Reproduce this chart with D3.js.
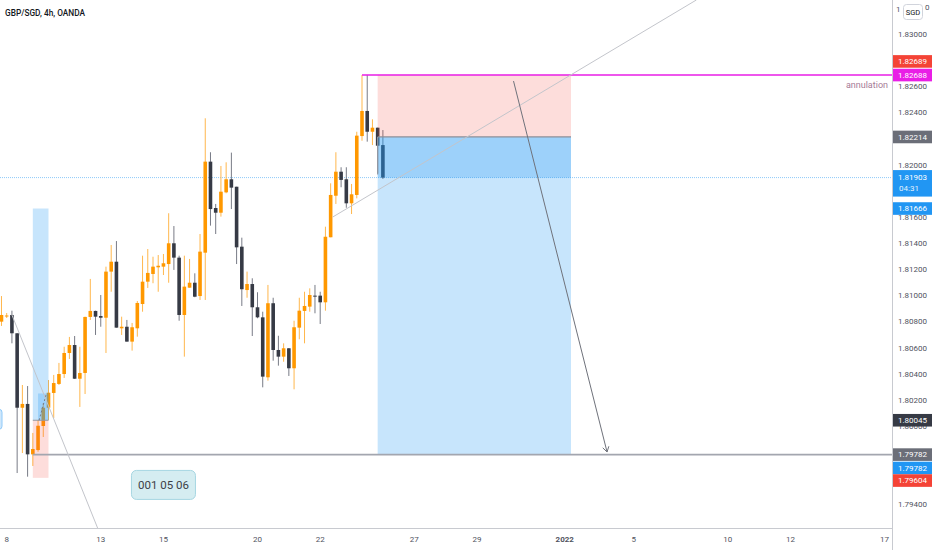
<!DOCTYPE html>
<html lang="en">
<head>
<meta charset="UTF-8">
<title>GBP/SGD, 4h, OANDA</title>
<style>
    body { margin: 0; background: #fff; }
    svg { display: block; font-family: Roboto, "Noto Sans", sans-serif; }
</style>
</head>
<body>
<script src="https://cdnjs.cloudflare.com/ajax/libs/d3/7.8.2/d3.min.js"></script>
<script>

// 4h candles, first one is the last bar of Dec 7
const opens = [1.80800,1.80843,1.80851,1.80711,1.80141,1.80170,1.79784,1.79817,1.80001,1.80141,
    1.80254,1.80323,1.80399,1.80560,1.80621,1.80363,1.80407,1.80836,1.80882,1.80843,
    1.80830,1.81183,1.81259,1.80749,1.80761,1.80647,1.80749,1.80935,1.81106,1.81165,
    1.81216,1.81221,1.81241,1.81400,1.81290,1.80851,1.81060,1.81098,1.80996,1.81328,
    1.82025,1.81670,1.81634,1.81790,1.81890,1.81833,1.81374,1.81042,1.81088,1.80910,
    1.80833,1.80374,1.80941,1.80583,1.80532,1.80596,1.80443,1.80754,1.80882,1.80915,
    1.80999,1.80999,1.80948,1.81446,1.81764,1.81948,1.81890,1.81706,1.81770,1.82221,
    1.82413,1.82254,1.82285,1.82152]
const highs = [1.80996,1.80866,1.80884,1.80711,1.80315,1.80307,1.79948,1.80047,1.80177,1.80353,
    1.80392,1.80484,1.80608,1.80683,1.80690,1.80608,1.80838,1.81127,1.80884,1.81004,
    1.81221,1.81387,1.81417,1.80838,1.80813,1.80790,1.80958,1.81305,1.81356,1.81297,
    1.81310,1.81318,1.81630,1.81532,1.81305,1.81305,1.81280,1.81170,1.81471,1.82357,
    1.82097,1.81701,1.81992,1.82020,1.82094,1.81833,1.81443,1.81183,1.81132,1.81025,
    1.80876,1.81081,1.80983,1.80692,1.80634,1.80598,1.80807,1.80983,1.81029,1.81055,
    1.81081,1.81029,1.81527,1.81859,1.82097,1.81982,1.81982,1.81854,1.82254,1.82688,
    1.82689,1.82349,1.82285,1.82267]
const lows = [1.80767,1.80828,1.80634,1.79641,1.79794,1.79613,1.79695,1.79804,1.79917,1.80047,
    1.80062,1.80315,1.80369,1.80514,1.80361,1.80147,1.80246,1.80813,1.80698,1.80761,
    1.80560,1.81029,1.80754,1.80698,1.80647,1.80578,1.80685,1.80876,1.81058,1.81094,
    1.81029,1.81157,1.81098,1.81196,1.80807,1.80532,1.81060,1.80987,1.80966,1.80966,
    1.81535,1.81471,1.81604,1.81783,1.81662,1.81241,1.80920,1.80983,1.80690,1.80826,
    1.80297,1.80348,1.80501,1.80463,1.80493,1.80384,1.80282,1.80665,1.80634,1.80876,
    1.80864,1.80782,1.80884,1.81446,1.81701,1.81829,1.81672,1.81624,1.81744,1.82185,
    1.82178,1.82152,1.81936,1.81892]
const closes = [1.80851,1.80847,1.80711,1.80141,1.80170,1.79784,1.79825,1.80003,1.80141,1.80256,
    1.80330,1.80399,1.80560,1.80621,1.80363,1.80407,1.80836,1.80882,1.80838,1.80830,
    1.81183,1.81259,1.80754,1.80761,1.80647,1.80757,1.80943,1.81106,1.81173,1.81221,
    1.81228,1.81247,1.81400,1.81290,1.80851,1.81068,1.81098,1.80991,1.81336,1.82025,
    1.81662,1.81634,1.81795,1.81890,1.81826,1.81369,1.81048,1.81088,1.80910,1.80833,
    1.80379,1.80941,1.80583,1.80532,1.80596,1.80443,1.80757,1.80884,1.80920,1.81004,
    1.80994,1.80948,1.81450,1.81770,1.81948,1.81885,1.81706,1.81775,1.82224,1.82413,
    1.82254,1.82285,1.82147,1.81903]

// time axis: trading day number (Dec 8 = 0), 6 bars a day
const dayLabels = ["8","13","15","20","22","27","29","2022","5","10","12","17"]
const dayIndex = [0,3,5,8,10,13,15,17.8,20,23,25,28]
const barsPerDay = 6

const priceTicks = [1.794,1.796,1.798,1.800,1.802,1.804,1.806,1.808,1.810,1.812,
    1.814,1.816,1.818,1.820,1.822,1.824,1.826,1.828,1.830,1.832]

// short position (bars, prices)
const shortBars = [71, 108]
const shortEntry = 1.82214, shortStop = 1.82689, shortTarget = 1.79782
const lastPrice = 1.81903

// small long position on the left
const longBars = [5, 8]
const longEntry = 1.80045, longStop = 1.79604, longTarget = 1.81666, longFill = 1.80250

const annulPrice = 1.82688, annulFromBar = 68
const supportPrice = 1.79782, supportFromBar = 5

// drawn lines [bar, price] pairs
const trendDown = [[1, 1.80851], [17.6, 1.79200]]
const trendUp = [[62.4, 1.81601], [132, 1.83263]]
const arrowLine = [[97, 1.82642], [114.9, 1.79802]]

const W = 932, H = 550
const paneR = 892, paneB = 528

const x = d3.scaleLinear().domain([0, 168]).range([6.7, 884.5])
const y = d3.scaleLinear().domain([1.794, 1.83]).range([504.5, 34.3])

const svg = d3.select("body").append("svg")
    .attr("width", W)
    .attr("height", H)

svg.append("defs").append("clipPath").attr("id", "pane")
    .append("rect").attr("width", paneR).attr("height", paneB)

const pane = svg.append("g").attr("clip-path", "url(#pane)")

// last price line
pane.append("line")
    .attr("x1", 0).attr("x2", paneR)
    .attr("y1", y(lastPrice)).attr("y2", y(lastPrice))
    .attr("stroke", "#2196f3").attr("stroke-opacity", 0.5)
    .attr("stroke-dasharray", "1 1")

// candles
const candles = opens.map((o, i) => ({bar: i - 1, o, h: highs[i], l: lows[i], c: closes[i]}))
const up = d => d.c >= d.o

pane.selectAll("line.wick")
    .data(candles)
    .enter()
    .append("line")
        .attr("class", "wick")
        .attr("x1", d => x(d.bar)).attr("x2", d => x(d.bar))
        .attr("y1", d => y(d.h)).attr("y2", d => y(d.l))
        .attr("stroke", d => up(d) ? "#ffb74d" : "#787b86")
        .attr("stroke-width", 1)

pane.selectAll("rect.body")
    .data(candles)
    .enter()
    .append("rect")
        .attr("class", "body")
        .attr("x", d => x(d.bar) - 1.8)
        .attr("width", 3.6)
        .attr("y", d => y(Math.max(d.o, d.c)))
        .attr("height", d => Math.max(1, Math.abs(y(d.o) - y(d.c))))
        .attr("fill", d => up(d) ? "#ff9800" : "#363a45")

// small long position
pane.append("rect")
    .attr("x", x(longBars[0])).attr("width", x(longBars[1]) - x(longBars[0]))
    .attr("y", y(longTarget)).attr("height", y(longEntry) - y(longTarget))
    .attr("fill", "rgba(33,150,243,0.25)")
pane.append("rect")
    .attr("x", x(longBars[0] + 1)).attr("width", x(longBars[1]) - x(longBars[0] + 1))
    .attr("y", y(longFill)).attr("height", y(longEntry) - y(longFill))
    .attr("fill", "rgba(33,150,243,0.25)")
pane.append("rect")
    .attr("x", x(longBars[0])).attr("width", x(longBars[1]) - x(longBars[0]))
    .attr("y", y(longEntry)).attr("height", y(longStop) - y(longEntry))
    .attr("fill", "rgba(244,67,54,0.18)")
pane.append("line")
    .attr("x1", x(longBars[0])).attr("x2", x(longBars[1]))
    .attr("y1", y(longEntry)).attr("y2", y(longEntry))
    .attr("stroke", "#9598a1").attr("stroke-width", 1)
pane.append("line")
    .attr("x1", x(longBars[0] + 1.2)).attr("x2", x(longBars[1] - 0.4))
    .attr("y1", y(longEntry)).attr("y2", y(longFill))
    .attr("stroke", "#787b86").attr("stroke-dasharray", "2 2")

// short position
pane.append("rect")
    .attr("x", x(shortBars[0])).attr("width", x(shortBars[1]) - x(shortBars[0]))
    .attr("y", y(shortStop)).attr("height", y(shortEntry) - y(shortStop))
    .attr("fill", "rgba(244,67,54,0.18)")
pane.append("rect")
    .attr("x", x(shortBars[0])).attr("width", x(shortBars[1]) - x(shortBars[0]))
    .attr("y", y(shortEntry)).attr("height", y(shortTarget) - y(shortEntry))
    .attr("fill", "rgba(33,150,243,0.25)")
pane.append("rect")
    .attr("x", x(shortBars[0])).attr("width", x(shortBars[1]) - x(shortBars[0]))
    .attr("y", y(shortEntry)).attr("height", y(lastPrice) - y(shortEntry))
    .attr("fill", "rgba(33,150,243,0.25)")
pane.append("line")
    .attr("x1", x(shortBars[0])).attr("x2", x(shortBars[1]))
    .attr("y1", y(shortEntry)).attr("y2", y(shortEntry))
    .attr("stroke", "#8c8f98").attr("stroke-width", 1.3)
pane.append("line")
    .attr("x1", x(shortBars[0])).attr("x2", x(shortBars[0]))
    .attr("y1", y(shortEntry)).attr("y2", y(lastPrice) - 3)
    .attr("stroke", "#9598a1").attr("stroke-width", 1.2)

// support line and annulation line
pane.append("line")
    .attr("x1", x(supportFromBar)).attr("x2", paneR)
    .attr("y1", y(supportPrice)).attr("y2", y(supportPrice))
    .attr("stroke", "#a3a6af").attr("stroke-width", 1.6)

pane.append("line")
    .attr("x1", x(annulFromBar)).attr("x2", paneR)
    .attr("y1", y(annulPrice)).attr("y2", y(annulPrice))
    .attr("stroke", "#e91ee6").attr("stroke-width", 1.6)

pane.append("text")
    .attr("x", paneR - 4).attr("y", y(annulPrice) + 13)
    .attr("text-anchor", "end")
    .attr("font-size", 9)
    .attr("fill", "#a57a96")
    .text("annulation")

// trend lines
const seg = (pts, col, w) => pane.append("line")
    .attr("x1", x(pts[0][0])).attr("y1", y(pts[0][1]))
    .attr("x2", x(pts[1][0])).attr("y2", y(pts[1][1]))
    .attr("stroke", col).attr("stroke-width", w)

seg(trendDown, "#c3c5cb", 1)
seg(trendUp, "#c3c5cb", 1)
seg(arrowLine, "#6f727b", 1)

// arrow head
const ax = x(arrowLine[1][0]), ay = y(arrowLine[1][1])
const ang = Math.atan2(ay - y(arrowLine[0][1]), ax - x(arrowLine[0][0]))
;[-0.55, 0.55].forEach(a => {
    pane.append("line")
        .attr("x1", ax).attr("y1", ay)
        .attr("x2", ax - 6 * Math.cos(ang + a)).attr("y2", ay - 6 * Math.sin(ang + a))
        .attr("stroke", "#6f727b").attr("stroke-width", 1)
})

// note box
const noteG = pane.append("g").attr("transform", `translate(${x(30)},${y(1.7955)})`)
noteG.append("rect")
    .attr("x", -32).attr("y", -14.5).attr("width", 64).attr("height", 29).attr("rx", 5)
    .attr("fill", "#d5edf1").attr("stroke", "#a6d6e2").attr("stroke-width", 1)
noteG.append("text")
    .attr("text-anchor", "middle").attr("dy", "0.36em")
    .attr("font-size", 11.5).attr("fill", "#3c3f47")
    .text("001 05 06")

// tiny label cut off at the left edge
pane.append("rect")
    .attr("x", -10).attr("y", y(1.80045) - 11).attr("width", 12).attr("height", 20).attr("rx", 3)
    .attr("fill", "#cfe7fb").attr("stroke", "#90caf9")

// title
svg.append("text")
    .attr("x", 5).attr("y", 16)
    .attr("font-size", 8.3).attr("font-weight", 500)
    .attr("fill", "#131722")
    .text("GBP/SGD, 4h, OANDA")

// axes frame
svg.append("line")
    .attr("x1", paneR + 0.5).attr("x2", paneR + 0.5).attr("y1", 0).attr("y2", H)
    .attr("stroke", "#c8cad0")
svg.append("line")
    .attr("x1", 0).attr("x2", paneR).attr("y1", paneB + 0.5).attr("y2", paneB + 0.5)
    .attr("stroke", "#c8cad0")

// price tags on the right scale (boxes computed first, ticks hidden under them)
const tags = [
    {p: shortStop, col: "#f44336", nudge: -13.5},
    {p: annulPrice, col: "#e91ee6", nudge: 0},
    {p: shortEntry, col: "#6b6e78", nudge: 0},
    {p: longTarget, col: "#2196f3", nudge: 0},
    {p: longEntry, col: "#363a45", nudge: 0},
    {p: supportPrice, col: "#6b6e78", nudge: 0},
    {p: shortTarget, col: "#2196f3", nudge: 13.4},
    {p: longStop, col: "#f44336", nudge: 2.7}
]
const ly = y(lastPrice)
const boxes = tags.map(t => [y(t.p) + t.nudge - 6.3, y(t.p) + t.nudge + 6.3])
boxes.push([ly - 7.5, ly + 19])
boxes.push([0, 20])
const hidden = v => boxes.some(b => y(v) > b[0] + 1 && y(v) < b[1] - 1)

// price scale
svg.selectAll("text.ptick")
    .data(priceTicks.filter(v => !hidden(v)))
    .enter()
    .append("text")
        .attr("class", "ptick")
        .attr("x", 898)
        .attr("y", d => y(d))
        .attr("dy", "0.35em")
        .attr("font-size", 8)
        .attr("fill", "#50535e")
        .text(d => d.toFixed(5))

// time scale
svg.selectAll("text.ttick")
    .data(dayLabels)
    .enter()
    .append("text")
        .attr("class", "ttick")
        .attr("x", (d, i) => x(dayIndex[i] * barsPerDay))
        .attr("y", 542)
        .attr("text-anchor", "middle")
        .attr("font-size", 8)
        .attr("fill", "#50535e")
        .attr("font-weight", d => d === "2022" ? 700 : 400)
        .text(d => d)

tags.forEach(t => {
    const cy = y(t.p) + t.nudge
    svg.append("rect")
        .attr("x", paneR + 1).attr("y", cy - 6.3).attr("width", W - paneR).attr("height", 12.6)
        .attr("fill", t.col)
    svg.append("text")
        .attr("x", 912.5).attr("y", cy).attr("dy", "0.35em")
        .attr("text-anchor", "middle").attr("font-size", 8).attr("fill", "#fff")
        .text(t.p.toFixed(5))
})

// last price tag with bar countdown
svg.append("rect")
    .attr("x", paneR + 1).attr("y", ly - 7.5).attr("width", W - paneR).attr("height", 26.5)
    .attr("fill", "#2196f3")
svg.append("text")
    .attr("x", 912.5).attr("y", ly).attr("dy", "0.35em")
    .attr("text-anchor", "middle").attr("font-size", 8).attr("fill", "#fff")
    .text(lastPrice.toFixed(5))
svg.append("text")
    .attr("x", 899).attr("y", ly + 11).attr("dy", "0.35em")
    .attr("font-size", 8).attr("fill", "#e3f2fd")
    .text("04:31")

// currency button, partly over the top price label
svg.append("text")
    .attr("x", 896).attr("y", 9).attr("dy", "0.35em")
    .attr("font-size", 8).attr("fill", "#50535e")
    .text("1")
svg.append("text")
    .attr("x", 925).attr("y", 7).attr("dy", "0.35em")
    .attr("font-size", 8).attr("fill", "#50535e")
    .text("0")
svg.append("rect")
    .attr("x", 903.5).attr("y", 4.5).attr("width", 19).attr("height", 15).attr("rx", 3)
    .attr("fill", "#fff").attr("stroke", "#d1d4dc")
svg.append("text")
    .attr("x", 913).attr("y", 12).attr("dy", "0.35em")
    .attr("text-anchor", "middle").attr("font-size", 7.5).attr("fill", "#131722")
    .text("SGD")

</script>
</body>
</html>
